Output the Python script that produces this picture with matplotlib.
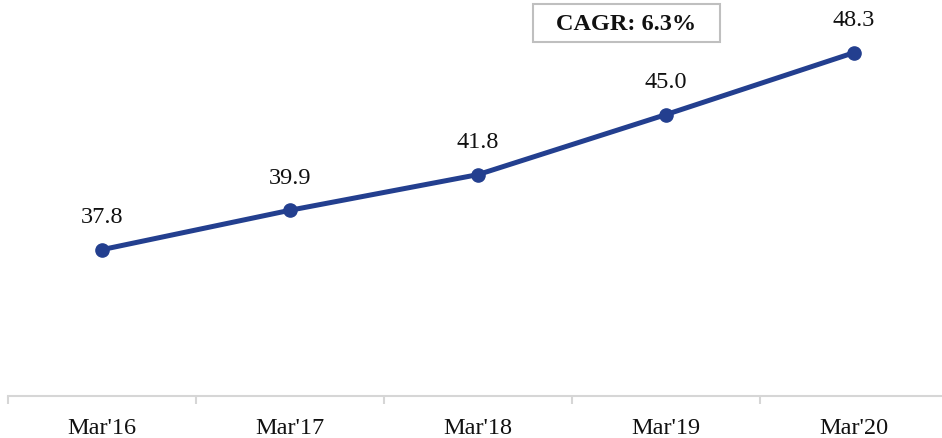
import matplotlib.pyplot as plt
from matplotlib.patches import Rectangle
from matplotlib.ticker import FixedLocator

years = ["Mar'16", "Mar'17", "Mar'18", "Mar'19", "Mar'20"]
values = [37.8, 39.9, 41.8, 45.0, 48.3]
cagr_text = "CAGR: 6.3%"

plt.rcParams['font.family'] = ['Liberation Serif', 'DejaVu Serif']

W, H = 942, 439
fig = plt.figure(figsize=(W / 100, H / 100), dpi=100)
ax = fig.add_axes([8 / W, 42 / H, 940 / W, 397 / H])

line_color = '#233f8f'
x = list(range(len(years)))
ax.plot(x, values, color=line_color, linewidth=3.6, marker='o', markersize=9.5)

# value labels above each point
for xi, v in zip(x, values):
    ax.annotate(f"{v:.1f}", (xi, v), xytext=(0, 16), textcoords='offset points',
                ha='center', va='bottom', fontsize=17.5, color='#111111')

ax.set_xlim(-0.5, len(years) - 0.5)
ax.set_ylim(30, 51.16)

ax.set_xticks(x)
ax.set_xticklabels(years, fontsize=17.5, color='#111111')
ax.xaxis.set_minor_locator(FixedLocator([i - 0.5 for i in range(len(years) + 1)]))
ax.tick_params(axis='x', which='major', length=0, pad=15)
ax.tick_params(axis='x', which='minor', length=6, width=1.5, color='#d6d6d6')
ax.set_yticks([])

for name, spine in ax.spines.items():
    spine.set_visible(name == 'bottom')
ax.spines['bottom'].set_color('#d6d6d6')
ax.spines['bottom'].set_linewidth(1.5)

# CAGR callout box
fig.patches.append(Rectangle((533 / W, 1 - 43 / H), 187 / W, 38 / H,
                             transform=fig.transFigure, facecolor='white',
                             edgecolor='#bfbfbf', linewidth=1.5))
fig.text(626.5 / W, 1 - 25 / H, cagr_text, ha='center', va='center',
         fontsize=17.5, fontweight='bold', color='#111111')

fig.savefig('out.png', dpi=100)
